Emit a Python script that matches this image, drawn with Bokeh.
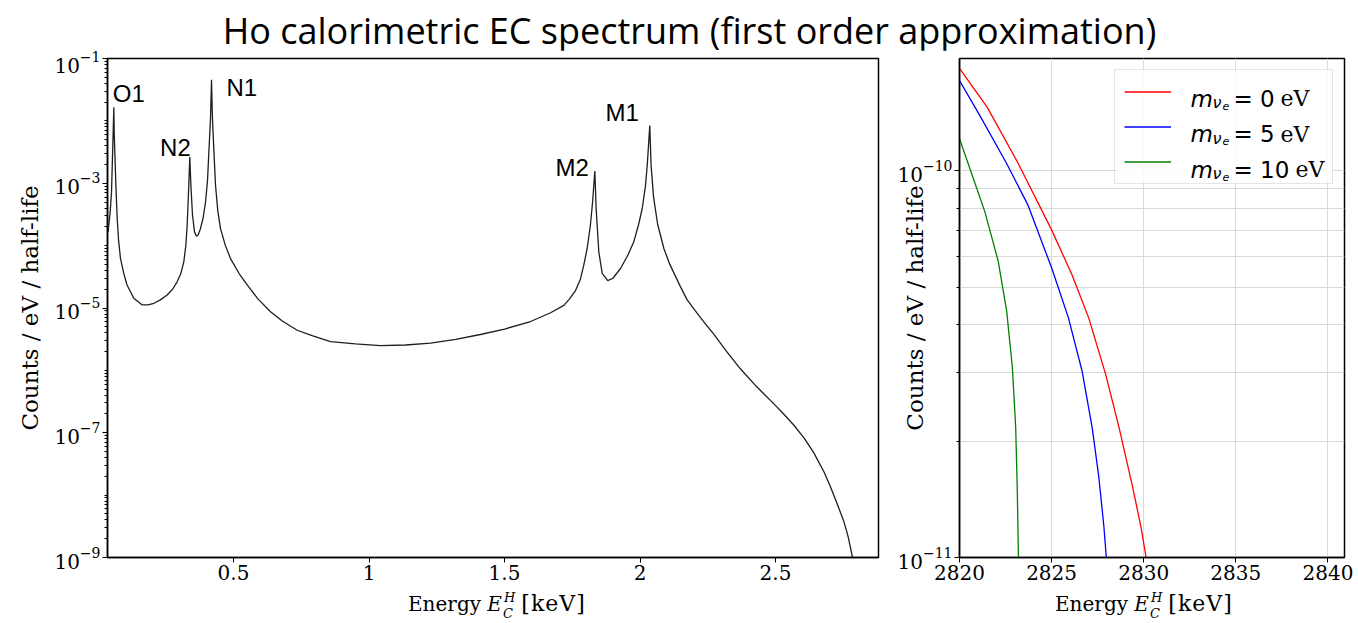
import math
from bokeh.plotting import figure
from bokeh.models import FixedTicker, Label, Legend, LegendItem, Div, BoxAnnotation
from bokeh.layouts import column, row
from bokeh.embed import file_html
from bokeh.resources import INLINE

# ---------------- data ----------------
title_text = "Ho calorimetric EC spectrum (first order approximation)"

spectrum_energy_keV = [
    0.037, 0.045, 0.0498, 0.0556, 0.0583, 0.060, 0.062, 0.066, 0.0708, 0.076,
    0.083, 0.095, 0.107, 0.132, 0.163, 0.185, 0.206, 0.23, 0.255, 0.275,
    0.292, 0.305, 0.3166, 0.324, 0.329, 0.335, 0.3387, 0.342, 0.344, 0.3487,
    0.356, 0.3635, 0.370, 0.378, 0.388, 0.3967, 0.404, 0.409, 0.415, 0.4188,
    0.422, 0.425, 0.4336, 0.442, 0.452, 0.470, 0.489, 0.520, 0.5505, 0.590,
    0.6365, 0.680, 0.735, 0.790, 0.858, 0.950, 1.042, 1.135, 1.227, 1.320,
    1.411, 1.500, 1.596, 1.670, 1.719, 1.740, 1.762, 1.780, 1.7926, 1.805,
    1.817, 1.825, 1.8333, 1.838, 1.848, 1.8605, 1.881, 1.900, 1.928, 1.955,
    1.977, 1.995, 2.008, 2.020, 2.0266, 2.036, 2.041, 2.050, 2.065, 2.088,
    2.110, 2.149, 2.174, 2.200, 2.2355, 2.272, 2.320, 2.371, 2.430, 2.494,
    2.530, 2.568, 2.605, 2.641, 2.680, 2.703, 2.730, 2.752, 2.767, 2.777,
    2.784,
]
spectrum_counts = [
    1.66e-4, 3.5e-4, 7.2e-4, 5.8e-3, 1.65e-2, 6.0e-3, 3.2e-3, 9.0e-4, 2.7e-4, 1.2e-4,
    6.2e-5, 3.6e-5, 2.34e-5, 1.43e-5, 1.12e-5, 1.12e-5, 1.19e-5, 1.35e-5, 1.62e-5, 2.0e-5,
    2.63e-5, 3.5e-5, 5.5e-5, 1.0e-4, 2.14e-4, 9.3e-4, 2.63e-3, 1.1e-3, 7.2e-4, 3.1e-4,
    1.66e-4, 1.41e-4, 1.5e-4, 1.87e-4, 2.8e-4, 5.0e-4, 1.1e-3, 3.16e-3, 1.07e-2, 4.57e-2,
    1.2e-2, 5.8e-3, 9.3e-4, 3.6e-4, 1.87e-4, 1.0e-4, 6.2e-5, 3.6e-5, 2.34e-5, 1.4e-5,
    8.7e-6, 6.2e-6, 4.4e-6, 3.6e-6, 2.9e-6, 2.65e-6, 2.5e-6, 2.55e-6, 2.73e-6, 3.15e-6,
    3.76e-6, 4.6e-6, 6.07e-6, 8.4e-6, 1.1e-5, 1.4e-5, 1.9e-5, 2.9e-5, 4.9e-5, 9.0e-5,
    2.14e-4, 5.0e-4, 1.57e-3, 4.0e-4, 7.9e-5, 3.58e-5, 2.75e-5, 3.0e-5, 4.3e-5, 7.0e-5,
    1.15e-4, 2.2e-4, 3.9e-4, 9.0e-4, 1.93e-3, 8.4e-3, 1.9e-3, 6.0e-4, 2.2e-4, 9.0e-5,
    5.0e-5, 2.2e-5, 1.35e-5, 9.5e-6, 6.0e-6, 3.8e-6, 2.0e-6, 1.05e-6, 5.5e-7, 2.9e-7,
    2.0e-7, 1.32e-7, 8.3e-8, 4.8e-8, 2.3e-8, 1.35e-8, 6.8e-9, 3.8e-9, 2.24e-9, 1.41e-9,
    1.0e-9,
]

peak_names = ["O1", "N2", "N1", "M2", "M1"]
peak_energy_keV = [0.0583, 0.3387, 0.4188, 1.8333, 2.036]
peak_counts = [1.65e-2, 2.63e-3, 4.57e-2, 1.57e-3, 8.4e-3]

neutrino_masses_eV = [0, 5, 10]
endpoint_energy_m0 = [2820.0, 2821.5, 2823.16, 2825.0, 2826.1, 2827.01, 2827.93, 2828.66, 2829.40, 2829.85, 2830.13]
endpoint_counts_m0 = [1.84e-10, 1.46e-10, 1.05e-10, 7.03e-11, 5.39e-11, 4.17e-11, 2.98e-11, 2.17e-11, 1.52e-11, 1.20e-11, 1.0e-11]
endpoint_energy_m5 = [2820.0, 2821.06, 2822.53, 2823.71, 2825.0, 2825.91, 2826.65, 2827.2, 2827.56, 2827.84, 2827.97]
endpoint_counts_m5 = [1.71e-10, 1.40e-10, 1.05e-10, 8.16e-11, 5.61e-11, 4.17e-11, 3.04e-11, 2.17e-11, 1.62e-11, 1.20e-11, 1.0e-11]
endpoint_energy_m10 = [2820.0, 2820.45, 2821.37, 2822.1, 2822.56, 2822.87, 2823.05, 2823.14, 2823.2]
endpoint_counts_m10 = [1.21e-10, 1.05e-10, 7.85e-11, 5.84e-11, 4.34e-11, 3.10e-11, 2.17e-11, 1.47e-11, 1.0e-11]

left_x_ticks = [0.5, 1, 1.5, 2, 2.5]
left_x_tick_labels = ["0.5", "1", "1.5", "2", "2.5"]
left_y_major = [1e-9, 1e-7, 1e-5, 1e-3, 1e-1]
right_x_ticks = [2820, 2825, 2830, 2835, 2840]
right_y_major = [1e-11, 1e-10]

y_label_text = "Counts / eV / half-life"

# ---------------- style ----------------
SERIF = "DejaVu Serif"
SANS = "DejaVu Sans"
series_colors = ["#ff0000", "#0000ff", "#008000"]
FIG_H = 538


def style_axis(ax):
    ax.axis_line_color = "black"
    ax.axis_line_width = 1.5
    ax.major_tick_line_color = "black"
    ax.major_tick_out = 5
    ax.major_tick_in = 0
    ax.minor_tick_line_color = "black"
    ax.minor_tick_out = 3
    ax.minor_tick_in = 0
    ax.major_label_text_font = SERIF
    ax.major_label_text_font_size = "20px"
    ax.major_label_text_color = "black"
    ax.major_label_standoff = 2
    ax.axis_label_text_font = SERIF
    ax.axis_label_text_font_size = "23px"
    ax.axis_label_text_font_style = "normal"
    ax.axis_label_text_color = "black"


def minor_log_ticks(lo_exp, hi_exp, majors):
    out = []
    for e in range(lo_exp, hi_exp):
        for k in range(1, 10):
            v = k * 10.0 ** e
            if all(abs(v - m) / m > 1e-6 for m in majors):
                out.append(v)
    return out


def xlabel_div(width, pad_left):
    html = (
        '<div style="width:%dpx; box-sizing:border-box; padding-left:%dpx; '
        'font-family:\'DejaVu Serif\'; font-size:20px; line-height:32px; color:#000; '
        'white-space:nowrap;">Energy <i>E</i>'
        '<span style="display:inline-block; position:relative; width:13px; height:1px;">'
        '<i style="position:absolute; left:2px; bottom:7px; font-size:13px; line-height:13px;">H</i>'
        '<i style="position:absolute; left:1px; top:-3px; font-size:13px; line-height:13px;">C</i>'
        '</span> <span style="font-size:22px; letter-spacing:1px;">[keV]</span></div>'
    ) % (width, pad_left)
    return Div(text=html, width=width, height=34, margin=(0, 0, 0, 0))


# ---------------- title ----------------
title_div = Div(
    text=('<div style="width:1356px; box-sizing:border-box; padding-left:23px; padding-top:13px; '
          'font-family:\'Open Sans\', sans-serif; font-size:36px; line-height:36px; '
          'text-align:center; color:#000; white-space:nowrap;">' + title_text + '</div>'),
    width=1356, height=50, margin=(0, 0, 0, 0))

# ---------------- left panel ----------------
p1 = figure(width=882, height=FIG_H, x_range=(0.035, 2.88), y_range=(1e-9, 1e-1),
            y_axis_type="log", output_backend="svg", toolbar_location=None,
            min_border_left=107, min_border_right=4, min_border_top=8, min_border_bottom=31)
p1.line(spectrum_energy_keV, spectrum_counts, line_color="#1e1e1e", line_width=1.3)
p1.grid.visible = False
p1.outline_line_color = "black"
p1.outline_line_width = 1.5
style_axis(p1.xaxis[0])
style_axis(p1.yaxis[0])
p1.xaxis[0].axis_label = None
p1.yaxis[0].axis_label = y_label_text
p1.yaxis[0].axis_label_standoff = 8
p1.xaxis[0].ticker = FixedTicker(ticks=left_x_ticks, minor_ticks=[])
p1.xaxis[0].major_label_overrides = {t: s for t, s in zip(left_x_ticks, left_x_tick_labels)}
p1.yaxis[0].ticker = FixedTicker(ticks=left_y_major, minor_ticks=minor_log_ticks(-9, -1, left_y_major))

label_offsets = {"O1": ("left", -1, 14), "N2": ("right", 1, 10), "N1": ("left", 15, -8),
                 "M2": ("right", -6, 4), "M1": ("right", -11, 13)}
for name, e, c in zip(peak_names, peak_energy_keV, peak_counts):
    align, dx, dy = label_offsets[name]
    p1.add_layout(Label(x=e, y=c, text=name, text_align=align, text_baseline="alphabetic",
                        x_offset=dx, y_offset=dy, text_font="Liberation Sans",
                        text_font_size="24px", text_color="black"))

# ---------------- right panel ----------------
R_W, R_H = 474, FIG_H
R_LEFT, R_RIGHT, R_TOP, R_BOTTOM = 77, 12, 8, 31
p2 = figure(width=R_W, height=R_H, x_range=(2820, 2840.9), y_range=(1e-11, 1.95e-10),
            y_axis_type="log", output_backend="svg", toolbar_location=None,
            min_border_left=R_LEFT, min_border_right=R_RIGHT, min_border_top=R_TOP,
            min_border_bottom=R_BOTTOM)
p2.outline_line_color = "black"
p2.outline_line_width = 1.5
style_axis(p2.xaxis[0])
style_axis(p2.yaxis[0])
p2.xaxis[0].axis_label = None
p2.yaxis[0].axis_label = y_label_text
p2.yaxis[0].axis_label_standoff = -33
xt = FixedTicker(ticks=right_x_ticks, minor_ticks=[])
yt = FixedTicker(ticks=right_y_major, minor_ticks=minor_log_ticks(-11, -9, right_y_major))
p2.xaxis[0].ticker = xt
p2.yaxis[0].ticker = yt
p2.xgrid[0].ticker = xt
p2.ygrid[0].ticker = yt
for g in (p2.xgrid[0], p2.ygrid[0]):
    g.grid_line_color = "#d9d9d9"
    g.grid_line_width = 1
p2.ygrid[0].minor_grid_line_color = "#d9d9d9"
p2.ygrid[0].minor_grid_line_width = 1

series = [(endpoint_energy_m0, endpoint_counts_m0), (endpoint_energy_m5, endpoint_counts_m5),
          (endpoint_energy_m10, endpoint_counts_m10)]
renderers = []
for (xs, ys), col in zip(series, series_colors):
    renderers.append(p2.line(xs, ys, line_color=col, line_width=1.3))

# legend geometry (pixels)
LG_MARGIN, LG_PAD, LG_SPACING = 11, 9, 10
LG_GLYPH_W, LG_ITEM_H, LG_STANDOFF, LG_LABEL_W = 47, 25, 18, 134
lg_w = 2 * LG_PAD + LG_GLYPH_W + LG_STANDOFF + LG_LABEL_W
lg_h = 2 * LG_PAD + 3 * LG_ITEM_H + 2 * LG_SPACING

# white, semi-transparent backing for the legend box (covers the grid)
frame_w = R_W - R_LEFT - R_RIGHT
frame_h = R_H - R_TOP - R_BOTTOM
x0, x1 = p2.x_range.start, p2.x_range.end
ly0, ly1 = math.log10(p2.y_range.start), math.log10(p2.y_range.end)
px_to_x = lambda px: x0 + px / frame_w * (x1 - x0)          # px from frame left
px_to_y = lambda px: 10 ** (ly1 - px / frame_h * (ly1 - ly0))  # px from frame top
p2.add_layout(BoxAnnotation(left=px_to_x(frame_w - LG_MARGIN - lg_w), right=px_to_x(frame_w - LG_MARGIN),
                            top=px_to_y(LG_MARGIN), bottom=px_to_y(LG_MARGIN + lg_h),
                            fill_color="white", fill_alpha=0.85, line_color=None, level="underlay"))

legend = Legend(items=[LegendItem(label=" ", renderers=[r]) for r in renderers],
                location="top_right")
legend.margin = LG_MARGIN
legend.padding = LG_PAD
legend.spacing = LG_SPACING
legend.glyph_width = LG_GLYPH_W
legend.glyph_height = LG_ITEM_H
legend.label_height = LG_ITEM_H
legend.label_width = LG_LABEL_W
legend.label_standoff = LG_STANDOFF
legend.label_text_font_size = "14px"
legend.border_line_color = "#cccccc"
legend.border_line_width = 1
legend.background_fill_alpha = 0
p2.add_layout(legend)

# legend texts (m_{nu_e} = X eV), anchored to the frame's top-right corner
for i, m in enumerate(neutrino_masses_eV):
    base = -(40 + 35.5 * i)
    kw = dict(x=p2.x_range.end, y=p2.y_range.end, text_align="left",
              text_baseline="alphabetic", text_color="black", level="overlay")
    p2.add_layout(Label(text="m", x_offset=-154, y_offset=base, text_font=SANS,
                        text_font_style="italic", text_font_size="23px", **kw))
    p2.add_layout(Label(text="ν", x_offset=-132, y_offset=base - 4, text_font=SANS,
                        text_font_style="italic", text_font_size="16px", **kw))
    p2.add_layout(Label(text="e", x_offset=-122, y_offset=base - 7, text_font=SANS,
                        text_font_style="italic", text_font_size="11px", **kw))
    p2.add_layout(Label(text="= " + str(m), x_offset=-111, y_offset=base, text_font=SANS,
                        text_font_size="23px", **kw))
    p2.add_layout(Label(text="eV", x_offset=-64 + 15 * (len(str(m)) - 1), y_offset=base,
                        text_font=SERIF, text_font_size="22px", **kw))

layout = column(title_div, row(p1, p2), row(xlabel_div(882, 408), xlabel_div(474, 173)))
open("out.html", "w").write(file_html(layout, INLINE))
